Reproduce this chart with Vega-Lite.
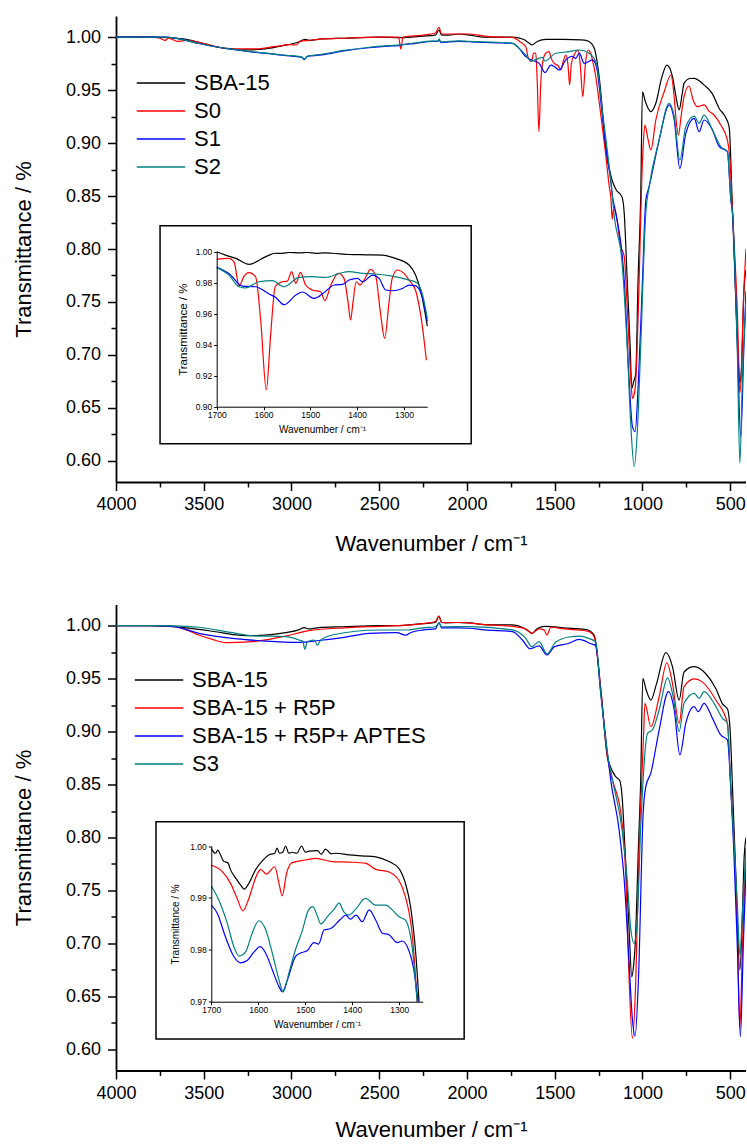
{
"$schema": "https://vega.github.io/schema/vega-lite/v6.json",
"padding": {"left": 12, "top": 16, "right": 0, "bottom": 0},
"background": "white",
"config": {
 "view": {"stroke": null},
 "font": "Liberation Sans",
 "axis": {"grid": false, "domainColor": "black", "tickColor": "black", "labelColor": "black", "titleColor": "black", "labelFont": "Liberation Sans", "titleFont": "Liberation Sans", "titleFontWeight": "normal", "labelFlush": false, "labelOverlap": false},
 "legend": {"orient": "none", "title": null, "symbolType": "stroke", "symbolSize": 2352, "symbolStrokeWidth": 1.3, "labelFontSize": 22, "labelFont": "Liberation Sans", "labelColor": "black", "clipHeight": 28, "rowPadding": 0, "labelOffset": 8, "padding": 0, "labelLimit": 400}
},
"datasets": {
 "p1main": [
  {"s":"SBA-15","w":4000,"t":1.0},{"s":"SBA-15","w":3900,"t":1.0},{"s":"SBA-15","w":3800,"t":1.0},{"s":"SBA-15","w":3700,"t":0.9995},{"s":"SBA-15","w":3600,"t":0.998},{"s":"SBA-15","w":3500,"t":0.994},{"s":"SBA-15","w":3400,"t":0.99},{"s":"SBA-15","w":3337,"t":0.9886},{"s":"SBA-15","w":3250,"t":0.988},{"s":"SBA-15","w":3150,"t":0.989},{"s":"SBA-15","w":3050,"t":0.992},{"s":"SBA-15","w":2960,"t":0.9955},{"s":"SBA-15","w":2923,"t":0.998},{"s":"SBA-15","w":2900,"t":0.997},{"s":"SBA-15","w":2850,"t":0.998},{"s":"SBA-15","w":2700,"t":0.999},{"s":"SBA-15","w":2500,"t":1.0},{"s":"SBA-15","w":2380,"t":0.9995},{"s":"SBA-15","w":2250,"t":1.001},{"s":"SBA-15","w":2180,"t":1.002},{"s":"SBA-15","w":2159,"t":1.0068},{"s":"SBA-15","w":2145,"t":1.002},{"s":"SBA-15","w":2100,"t":1.002},{"s":"SBA-15","w":2050,"t":1.003},{"s":"SBA-15","w":1988,"t":1.002},{"s":"SBA-15","w":1900,"t":1.0},{"s":"SBA-15","w":1800,"t":1.0},{"s":"SBA-15","w":1743,"t":1.0},{"s":"SBA-15","w":1680,"t":0.998},{"s":"SBA-15","w":1650,"t":0.995},{"s":"SBA-15","w":1629,"t":0.9926},{"s":"SBA-15","w":1600,"t":0.996},{"s":"SBA-15","w":1549,"t":0.998},{"s":"SBA-15","w":1450,"t":0.998},{"s":"SBA-15","w":1350,"t":0.9975},{"s":"SBA-15","w":1321,"t":0.997},{"s":"SBA-15","w":1290,"t":0.994},{"s":"SBA-15","w":1270,"t":0.987},{"s":"SBA-15","w":1247,"t":0.963},{"s":"SBA-15","w":1207,"t":0.8935},{"s":"SBA-15","w":1173,"t":0.865},{"s":"SBA-15","w":1150,"t":0.856},{"s":"SBA-15","w":1116,"t":0.849},{"s":"SBA-15","w":1104,"t":0.834},{"s":"SBA-15","w":1087,"t":0.771},{"s":"SBA-15","w":1070,"t":0.708},{"s":"SBA-15","w":1061,"t":0.6685},{"s":"SBA-15","w":1050,"t":0.675},{"s":"SBA-15","w":1038,"t":0.6826},{"s":"SBA-15","w":1025,"t":0.771},{"s":"SBA-15","w":1010,"t":0.849},{"s":"SBA-15","w":1000,"t":0.9485},{"s":"SBA-15","w":985,"t":0.94},{"s":"SBA-15","w":952,"t":0.9297},{"s":"SBA-15","w":924,"t":0.9376},{"s":"SBA-15","w":890,"t":0.962},{"s":"SBA-15","w":861,"t":0.9737},{"s":"SBA-15","w":829,"t":0.9627},{"s":"SBA-15","w":810,"t":0.945},{"s":"SBA-15","w":791,"t":0.9313},{"s":"SBA-15","w":775,"t":0.945},{"s":"SBA-15","w":763,"t":0.9564},{"s":"SBA-15","w":730,"t":0.961},{"s":"SBA-15","w":705,"t":0.9612},{"s":"SBA-15","w":650,"t":0.955},{"s":"SBA-15","w":603,"t":0.947},{"s":"SBA-15","w":560,"t":0.932},{"s":"SBA-15","w":534,"t":0.9265},{"s":"SBA-15","w":506,"t":0.9154},{"s":"SBA-15","w":489,"t":0.8463},{"s":"SBA-15","w":470,"t":0.76},{"s":"SBA-15","w":455,"t":0.7},{"s":"SBA-15","w":445,"t":0.6735},{"s":"SBA-15","w":435,"t":0.69},{"s":"SBA-15","w":422,"t":0.76},{"s":"SBA-15","w":410,"t":0.78},
  {"s":"S0","w":4000,"t":1.0},{"s":"S0","w":3800,"t":1.0},{"s":"S0","w":3750,"t":0.999},{"s":"S0","w":3720,"t":0.997},{"s":"S0","w":3700,"t":0.999},{"s":"S0","w":3650,"t":0.996},{"s":"S0","w":3600,"t":0.997},{"s":"S0","w":3500,"t":0.994},{"s":"S0","w":3400,"t":0.99},{"s":"S0","w":3300,"t":0.989},{"s":"S0","w":3200,"t":0.989},{"s":"S0","w":3100,"t":0.991},{"s":"S0","w":3000,"t":0.993},{"s":"S0","w":2974,"t":0.9926},{"s":"S0","w":2950,"t":0.996},{"s":"S0","w":2900,"t":0.997},{"s":"S0","w":2850,"t":0.998},{"s":"S0","w":2700,"t":0.999},{"s":"S0","w":2500,"t":1.0},{"s":"S0","w":2390,"t":1.0},{"s":"S0","w":2377,"t":0.9888},{"s":"S0","w":2365,"t":1.0},{"s":"S0","w":2250,"t":1.002},{"s":"S0","w":2180,"t":1.004},{"s":"S0","w":2159,"t":1.0093},{"s":"S0","w":2145,"t":1.003},{"s":"S0","w":2050,"t":1.003},{"s":"S0","w":1988,"t":1.003},{"s":"S0","w":1900,"t":1.001},{"s":"S0","w":1800,"t":1.0},{"s":"S0","w":1741,"t":0.9999},{"s":"S0","w":1700,"t":0.996},{"s":"S0","w":1665,"t":0.991},{"s":"S0","w":1650,"t":0.98},{"s":"S0","w":1633,"t":0.9769},{"s":"S0","w":1620,"t":0.985},{"s":"S0","w":1608,"t":0.9848},{"s":"S0","w":1600,"t":0.96},{"s":"S0","w":1590,"t":0.9107},{"s":"S0","w":1580,"t":0.955},{"s":"S0","w":1566,"t":0.9785},{"s":"S0","w":1550,"t":0.985},{"s":"S0","w":1532,"t":0.9863},{"s":"S0","w":1520,"t":0.98},{"s":"S0","w":1503,"t":0.9753},{"s":"S0","w":1480,"t":0.973},{"s":"S0","w":1465,"t":0.969},{"s":"S0","w":1450,"t":0.978},{"s":"S0","w":1437,"t":0.9832},{"s":"S0","w":1425,"t":0.975},{"s":"S0","w":1415,"t":0.9549},{"s":"S0","w":1405,"t":0.975},{"s":"S0","w":1389,"t":0.9832},{"s":"S0","w":1367,"t":0.9879},{"s":"S0","w":1355,"t":0.975},{"s":"S0","w":1340,"t":0.9438},{"s":"S0","w":1325,"t":0.975},{"s":"S0","w":1310,"t":0.9879},{"s":"S0","w":1295,"t":0.985},{"s":"S0","w":1285,"t":0.9785},{"s":"S0","w":1266,"t":0.9627},{"s":"S0","w":1240,"t":0.93},{"s":"S0","w":1210,"t":0.89},{"s":"S0","w":1190,"t":0.86},{"s":"S0","w":1180,"t":0.848},{"s":"S0","w":1172,"t":0.828},{"s":"S0","w":1165,"t":0.838},{"s":"S0","w":1152,"t":0.834},{"s":"S0","w":1123,"t":0.802},{"s":"S0","w":1104,"t":0.793},{"s":"S0","w":1085,"t":0.7395},{"s":"S0","w":1066,"t":0.6763},{"s":"S0","w":1057,"t":0.659},{"s":"S0","w":1048,"t":0.662},{"s":"S0","w":1038,"t":0.676},{"s":"S0","w":1019,"t":0.77},{"s":"S0","w":1004,"t":0.865},{"s":"S0","w":995,"t":0.9},{"s":"S0","w":986,"t":0.917},{"s":"S0","w":970,"t":0.905},{"s":"S0","w":952,"t":0.8935},{"s":"S0","w":924,"t":0.9218},{"s":"S0","w":876,"t":0.9485},{"s":"S0","w":838,"t":0.9643},{"s":"S0","w":820,"t":0.945},{"s":"S0","w":810,"t":0.925},{"s":"S0","w":795,"t":0.9076},{"s":"S0","w":780,"t":0.925},{"s":"S0","w":763,"t":0.9438},{"s":"S0","w":735,"t":0.9539},{"s":"S0","w":710,"t":0.94},{"s":"S0","w":687,"t":0.9344},{"s":"S0","w":649,"t":0.936},{"s":"S0","w":620,"t":0.93},{"s":"S0","w":592,"t":0.9265},{"s":"S0","w":554,"t":0.9171},{"s":"S0","w":516,"t":0.9029},{"s":"S0","w":500,"t":0.88},{"s":"S0","w":487,"t":0.834},{"s":"S0","w":459,"t":0.7395},{"s":"S0","w":445,"t":0.664},{"s":"S0","w":435,"t":0.69},{"s":"S0","w":427,"t":0.7395},{"s":"S0","w":410,"t":0.8},
  {"s":"S1","w":4000,"t":1.0},{"s":"S1","w":3800,"t":1.0},{"s":"S1","w":3715,"t":1.0},{"s":"S1","w":3600,"t":0.997},{"s":"S1","w":3527,"t":0.994},{"s":"S1","w":3400,"t":0.99},{"s":"S1","w":3337,"t":0.9886},{"s":"S1","w":3250,"t":0.9865},{"s":"S1","w":3145,"t":0.9848},{"s":"S1","w":3050,"t":0.983},{"s":"S1","w":2997,"t":0.9822},{"s":"S1","w":2940,"t":0.981},{"s":"S1","w":2928,"t":0.979},{"s":"S1","w":2910,"t":0.982},{"s":"S1","w":2843,"t":0.983},{"s":"S1","w":2700,"t":0.987},{"s":"S1","w":2558,"t":0.99},{"s":"S1","w":2450,"t":0.9915},{"s":"S1","w":2390,"t":0.992},{"s":"S1","w":2377,"t":0.9926},{"s":"S1","w":2300,"t":0.994},{"s":"S1","w":2200,"t":0.996},{"s":"S1","w":2165,"t":0.996},{"s":"S1","w":2159,"t":0.998},{"s":"S1","w":2150,"t":0.995},{"s":"S1","w":2050,"t":0.996},{"s":"S1","w":1988,"t":0.9957},{"s":"S1","w":1900,"t":0.995},{"s":"S1","w":1800,"t":0.9945},{"s":"S1","w":1741,"t":0.9942},{"s":"S1","w":1700,"t":0.989},{"s":"S1","w":1665,"t":0.9816},{"s":"S1","w":1633,"t":0.9785},{"s":"S1","w":1589,"t":0.9753},{"s":"S1","w":1555,"t":0.9665},{"s":"S1","w":1522,"t":0.9737},{"s":"S1","w":1500,"t":0.972},{"s":"S1","w":1475,"t":0.969},{"s":"S1","w":1437,"t":0.9785},{"s":"S1","w":1400,"t":0.982},{"s":"S1","w":1380,"t":0.98},{"s":"S1","w":1360,"t":0.985},{"s":"S1","w":1332,"t":0.9753},{"s":"S1","w":1285,"t":0.9785},{"s":"S1","w":1262,"t":0.972},{"s":"S1","w":1228,"t":0.925},{"s":"S1","w":1200,"t":0.885},{"s":"S1","w":1181,"t":0.865},{"s":"S1","w":1171,"t":0.85},{"s":"S1","w":1152,"t":0.834},{"s":"S1","w":1104,"t":0.7707},{"s":"S1","w":1076,"t":0.6763},{"s":"S1","w":1057,"t":0.6322},{"s":"S1","w":1042,"t":0.6275},{"s":"S1","w":1023,"t":0.676},{"s":"S1","w":1000,"t":0.77},{"s":"S1","w":981,"t":0.846},{"s":"S1","w":962,"t":0.8588},{"s":"S1","w":905,"t":0.9029},{"s":"S1","w":848,"t":0.936},{"s":"S1","w":819,"t":0.9218},{"s":"S1","w":787,"t":0.876},{"s":"S1","w":753,"t":0.9092},{"s":"S1","w":705,"t":0.9234},{"s":"S1","w":677,"t":0.9107},{"s":"S1","w":649,"t":0.9218},{"s":"S1","w":601,"t":0.9124},{"s":"S1","w":563,"t":0.8966},{"s":"S1","w":516,"t":0.8919},{"s":"S1","w":496,"t":0.846},{"s":"S1","w":487,"t":0.834},{"s":"S1","w":459,"t":0.708},{"s":"S1","w":440,"t":0.6228},{"s":"S1","w":422,"t":0.708},{"s":"S1","w":410,"t":0.76},
  {"s":"S2","w":4000,"t":1.0},{"s":"S2","w":3715,"t":1.0},{"s":"S2","w":3600,"t":0.997},{"s":"S2","w":3527,"t":0.994},{"s":"S2","w":3400,"t":0.99},{"s":"S2","w":3337,"t":0.9888},{"s":"S2","w":3250,"t":0.9868},{"s":"S2","w":3145,"t":0.985},{"s":"S2","w":3050,"t":0.9832},{"s":"S2","w":2997,"t":0.9825},{"s":"S2","w":2940,"t":0.9812},{"s":"S2","w":2928,"t":0.9785},{"s":"S2","w":2910,"t":0.982},{"s":"S2","w":2843,"t":0.9835},{"s":"S2","w":2700,"t":0.9875},{"s":"S2","w":2558,"t":0.9905},{"s":"S2","w":2450,"t":0.992},{"s":"S2","w":2377,"t":0.9928},{"s":"S2","w":2300,"t":0.9945},{"s":"S2","w":2200,"t":0.9963},{"s":"S2","w":2165,"t":0.9963},{"s":"S2","w":2159,"t":0.9985},{"s":"S2","w":2150,"t":0.9955},{"s":"S2","w":2050,"t":0.9965},{"s":"S2","w":1988,"t":0.996},{"s":"S2","w":1900,"t":0.9955},{"s":"S2","w":1800,"t":0.995},{"s":"S2","w":1741,"t":0.9942},{"s":"S2","w":1700,"t":0.989},{"s":"S2","w":1665,"t":0.9832},{"s":"S2","w":1633,"t":0.9775},{"s":"S2","w":1570,"t":0.981},{"s":"S2","w":1556,"t":0.9775},{"s":"S2","w":1494,"t":0.9848},{"s":"S2","w":1418,"t":0.9863},{"s":"S2","w":1361,"t":0.9879},{"s":"S2","w":1304,"t":0.9848},{"s":"S2","w":1262,"t":0.9753},{"s":"S2","w":1228,"t":0.93},{"s":"S2","w":1181,"t":0.865},{"s":"S2","w":1160,"t":0.83},{"s":"S2","w":1116,"t":0.7865},{"s":"S2","w":1087,"t":0.708},{"s":"S2","w":1066,"t":0.6322},{"s":"S2","w":1047,"t":0.5945},{"s":"S2","w":1028,"t":0.6322},{"s":"S2","w":1010,"t":0.708},{"s":"S2","w":981,"t":0.834},{"s":"S2","w":962,"t":0.8588},{"s":"S2","w":905,"t":0.9029},{"s":"S2","w":848,"t":0.9376},{"s":"S2","w":819,"t":0.925},{"s":"S2","w":787,"t":0.884},{"s":"S2","w":753,"t":0.9154},{"s":"S2","w":705,"t":0.9255},{"s":"S2","w":677,"t":0.9186},{"s":"S2","w":649,"t":0.9265},{"s":"S2","w":601,"t":0.9124},{"s":"S2","w":554,"t":0.8966},{"s":"S2","w":516,"t":0.8919},{"s":"S2","w":496,"t":0.846},{"s":"S2","w":487,"t":0.834},{"s":"S2","w":459,"t":0.7},{"s":"S2","w":445,"t":0.598},{"s":"S2","w":430,"t":0.68},{"s":"S2","w":410,"t":0.75}
 ],
 "p1inset": [
  {"s":"SBA-15","w":1700,"t":1.0},{"s":"SBA-15","w":1681,"t":0.9978},{"s":"SBA-15","w":1659,"t":0.9957},{"s":"SBA-15","w":1631,"t":0.9918},{"s":"SBA-15","w":1595,"t":0.9968},{"s":"SBA-15","w":1575,"t":0.999},{"s":"SBA-15","w":1560,"t":0.9989},{"s":"SBA-15","w":1545,"t":0.9995},{"s":"SBA-15","w":1524,"t":0.9992},{"s":"SBA-15","w":1505,"t":0.9995},{"s":"SBA-15","w":1488,"t":0.9989},{"s":"SBA-15","w":1470,"t":0.9992},{"s":"SBA-15","w":1453,"t":0.999},{"s":"SBA-15","w":1417,"t":0.9982},{"s":"SBA-15","w":1380,"t":0.998},{"s":"SBA-15","w":1346,"t":0.9978},{"s":"SBA-15","w":1318,"t":0.9957},{"s":"SBA-15","w":1289,"t":0.9914},{"s":"SBA-15","w":1275,"t":0.985},{"s":"SBA-15","w":1262,"t":0.972},{"s":"SBA-15","w":1250,"t":0.952},
  {"s":"S0","w":1700,"t":0.995},{"s":"S0","w":1674,"t":0.9957},{"s":"S0","w":1663,"t":0.9935},{"s":"S0","w":1652,"t":0.9778},{"s":"S0","w":1642,"t":0.9839},{"s":"S0","w":1631,"t":0.9865},{"s":"S0","w":1617,"t":0.9839},{"s":"S0","w":1606,"t":0.9559},{"s":"S0","w":1594,"t":0.9108},{"s":"S0","w":1585,"t":0.9452},{"s":"S0","w":1575,"t":0.9774},{"s":"S0","w":1560,"t":0.9806},{"s":"S0","w":1549,"t":0.981},{"s":"S0","w":1540,"t":0.9871},{"s":"S0","w":1531,"t":0.9796},{"s":"S0","w":1521,"t":0.9867},{"s":"S0","w":1510,"t":0.9785},{"s":"S0","w":1496,"t":0.9753},{"s":"S0","w":1478,"t":0.9742},{"s":"S0","w":1469,"t":0.9684},{"s":"S0","w":1456,"t":0.9785},{"s":"S0","w":1440,"t":0.986},{"s":"S0","w":1428,"t":0.9828},{"s":"S0","w":1419,"t":0.9667},{"s":"S0","w":1414,"t":0.9559},{"s":"S0","w":1409,"t":0.9667},{"s":"S0","w":1402,"t":0.9806},{"s":"S0","w":1394,"t":0.9785},{"s":"S0","w":1385,"t":0.9817},{"s":"S0","w":1371,"t":0.9886},{"s":"S0","w":1360,"t":0.9839},{"s":"S0","w":1350,"t":0.9602},{"s":"S0","w":1341,"t":0.9441},{"s":"S0","w":1332,"t":0.9667},{"s":"S0","w":1325,"t":0.9828},{"s":"S0","w":1314,"t":0.9882},{"s":"S0","w":1300,"t":0.986},{"s":"S0","w":1289,"t":0.9817},{"s":"S0","w":1275,"t":0.975},{"s":"S0","w":1262,"t":0.955},{"s":"S0","w":1252,"t":0.93},
  {"s":"S1","w":1700,"t":0.9899},{"s":"S1","w":1674,"t":0.986},{"s":"S1","w":1645,"t":0.9778},{"s":"S1","w":1617,"t":0.9774},{"s":"S1","w":1588,"t":0.9727},{"s":"S1","w":1574,"t":0.9705},{"s":"S1","w":1556,"t":0.9658},{"s":"S1","w":1531,"t":0.972},{"s":"S1","w":1517,"t":0.974},{"s":"S1","w":1492,"t":0.9699},{"s":"S1","w":1471,"t":0.9735},{"s":"S1","w":1449,"t":0.9785},{"s":"S1","w":1431,"t":0.9789},{"s":"S1","w":1417,"t":0.9817},{"s":"S1","w":1399,"t":0.9828},{"s":"S1","w":1388,"t":0.9806},{"s":"S1","w":1367,"t":0.9849},{"s":"S1","w":1353,"t":0.9828},{"s":"S1","w":1339,"t":0.9753},{"s":"S1","w":1325,"t":0.9748},{"s":"S1","w":1303,"t":0.9763},{"s":"S1","w":1289,"t":0.9785},{"s":"S1","w":1275,"t":0.978},{"s":"S1","w":1262,"t":0.972},{"s":"S1","w":1250,"t":0.955},
  {"s":"S2","w":1700,"t":0.9899},{"s":"S2","w":1674,"t":0.9849},{"s":"S2","w":1652,"t":0.9774},{"s":"S2","w":1638,"t":0.9766},{"s":"S2","w":1610,"t":0.9806},{"s":"S2","w":1581,"t":0.9813},{"s":"S2","w":1556,"t":0.9774},{"s":"S2","w":1524,"t":0.9834},{"s":"S2","w":1496,"t":0.9839},{"s":"S2","w":1467,"t":0.9834},{"s":"S2","w":1438,"t":0.986},{"s":"S2","w":1417,"t":0.9871},{"s":"S2","w":1388,"t":0.986},{"s":"S2","w":1360,"t":0.9856},{"s":"S2","w":1325,"t":0.9843},{"s":"S2","w":1289,"t":0.9817},{"s":"S2","w":1272,"t":0.98},{"s":"S2","w":1260,"t":0.972},{"s":"S2","w":1250,"t":0.957}
 ],
 "p2main": [
  {"s":"SBA-15","w":4000,"t":1.0},{"s":"SBA-15","w":3800,"t":1.0},{"s":"SBA-15","w":3700,"t":0.9994},{"s":"SBA-15","w":3600,"t":0.998},{"s":"SBA-15","w":3432,"t":0.9943},{"s":"SBA-15","w":3300,"t":0.991},{"s":"SBA-15","w":3223,"t":0.9905},{"s":"SBA-15","w":3150,"t":0.991},{"s":"SBA-15","w":3052,"t":0.993},{"s":"SBA-15","w":2960,"t":0.996},{"s":"SBA-15","w":2928,"t":0.9981},{"s":"SBA-15","w":2900,"t":0.997},{"s":"SBA-15","w":2854,"t":0.998},{"s":"SBA-15","w":2700,"t":0.999},{"s":"SBA-15","w":2500,"t":1.0},{"s":"SBA-15","w":2400,"t":1.0},{"s":"SBA-15","w":2250,"t":1.002},{"s":"SBA-15","w":2180,"t":1.003},{"s":"SBA-15","w":2159,"t":1.0091},{"s":"SBA-15","w":2145,"t":1.003},{"s":"SBA-15","w":2120,"t":1.0027},{"s":"SBA-15","w":2050,"t":1.003},{"s":"SBA-15","w":1988,"t":1.0027},{"s":"SBA-15","w":1900,"t":1.001},{"s":"SBA-15","w":1741,"t":1.0007},{"s":"SBA-15","w":1680,"t":0.998},{"s":"SBA-15","w":1650,"t":0.995},{"s":"SBA-15","w":1630,"t":0.9928},{"s":"SBA-15","w":1600,"t":0.997},{"s":"SBA-15","w":1570,"t":0.9991},{"s":"SBA-15","w":1549,"t":0.9994},{"s":"SBA-15","w":1450,"t":0.998},{"s":"SBA-15","w":1323,"t":0.9964},{"s":"SBA-15","w":1300,"t":0.995},{"s":"SBA-15","w":1275,"t":0.991},{"s":"SBA-15","w":1237,"t":0.9393},{"s":"SBA-15","w":1200,"t":0.8763},{"s":"SBA-15","w":1152,"t":0.8574},{"s":"SBA-15","w":1130,"t":0.854},{"s":"SBA-15","w":1116,"t":0.8385},{"s":"SBA-15","w":1100,"t":0.7913},{"s":"SBA-15","w":1076,"t":0.7127},{"s":"SBA-15","w":1061,"t":0.6686},{"s":"SBA-15","w":1050,"t":0.68},{"s":"SBA-15","w":1042,"t":0.6969},{"s":"SBA-15","w":1023,"t":0.7913},{"s":"SBA-15","w":1010,"t":0.8543},{"s":"SBA-15","w":998,"t":0.9503},{"s":"SBA-15","w":980,"t":0.94},{"s":"SBA-15","w":952,"t":0.9298},{"s":"SBA-15","w":920,"t":0.945},{"s":"SBA-15","w":867,"t":0.9745},{"s":"SBA-15","w":829,"t":0.9613},{"s":"SBA-15","w":791,"t":0.9298},{"s":"SBA-15","w":763,"t":0.9563},{"s":"SBA-15","w":705,"t":0.9613},{"s":"SBA-15","w":639,"t":0.9546},{"s":"SBA-15","w":580,"t":0.94},{"s":"SBA-15","w":544,"t":0.9262},{"s":"SBA-15","w":516,"t":0.9215},{"s":"SBA-15","w":500,"t":0.9},{"s":"SBA-15","w":487,"t":0.848},{"s":"SBA-15","w":467,"t":0.7599},{"s":"SBA-15","w":445,"t":0.6749},{"s":"SBA-15","w":430,"t":0.73},{"s":"SBA-15","w":422,"t":0.776},{"s":"SBA-15","w":410,"t":0.8},
  {"s":"SBA-15 + R5P","w":4000,"t":1.0},{"s":"SBA-15 + R5P","w":3800,"t":1.0},{"s":"SBA-15 + R5P","w":3679,"t":0.9995},{"s":"SBA-15 + R5P","w":3600,"t":0.996},{"s":"SBA-15 + R5P","w":3527,"t":0.9912},{"s":"SBA-15 + R5P","w":3450,"t":0.987},{"s":"SBA-15 + R5P","w":3375,"t":0.984},{"s":"SBA-15 + R5P","w":3223,"t":0.9849},{"s":"SBA-15 + R5P","w":3052,"t":0.9896},{"s":"SBA-15 + R5P","w":2900,"t":0.9953},{"s":"SBA-15 + R5P","w":2700,"t":0.998},{"s":"SBA-15 + R5P","w":2500,"t":0.9994},{"s":"SBA-15 + R5P","w":2400,"t":1.0},{"s":"SBA-15 + R5P","w":2250,"t":1.002},{"s":"SBA-15 + R5P","w":2180,"t":1.004},{"s":"SBA-15 + R5P","w":2159,"t":1.009},{"s":"SBA-15 + R5P","w":2145,"t":1.003},{"s":"SBA-15 + R5P","w":2050,"t":1.003},{"s":"SBA-15 + R5P","w":1988,"t":1.0025},{"s":"SBA-15 + R5P","w":1900,"t":1.001},{"s":"SBA-15 + R5P","w":1741,"t":0.9994},{"s":"SBA-15 + R5P","w":1665,"t":0.997},{"s":"SBA-15 + R5P","w":1630,"t":0.9928},{"s":"SBA-15 + R5P","w":1589,"t":0.997},{"s":"SBA-15 + R5P","w":1560,"t":0.996},{"s":"SBA-15 + R5P","w":1545,"t":0.991},{"s":"SBA-15 + R5P","w":1522,"t":0.9985},{"s":"SBA-15 + R5P","w":1450,"t":0.997},{"s":"SBA-15 + R5P","w":1323,"t":0.9952},{"s":"SBA-15 + R5P","w":1300,"t":0.994},{"s":"SBA-15 + R5P","w":1275,"t":0.9895},{"s":"SBA-15 + R5P","w":1237,"t":0.9393},{"s":"SBA-15 + R5P","w":1200,"t":0.8763},{"s":"SBA-15 + R5P","w":1171,"t":0.8543},{"s":"SBA-15 + R5P","w":1123,"t":0.8229},{"s":"SBA-15 + R5P","w":1094,"t":0.7599},{"s":"SBA-15 + R5P","w":1076,"t":0.6655},{"s":"SBA-15 + R5P","w":1057,"t":0.6104},{"s":"SBA-15 + R5P","w":1038,"t":0.6655},{"s":"SBA-15 + R5P","w":1019,"t":0.7913},{"s":"SBA-15 + R5P","w":1004,"t":0.8543},{"s":"SBA-15 + R5P","w":993,"t":0.9},{"s":"SBA-15 + R5P","w":986,"t":0.9267},{"s":"SBA-15 + R5P","w":952,"t":0.9046},{"s":"SBA-15 + R5P","w":905,"t":0.9329},{"s":"SBA-15 + R5P","w":861,"t":0.965},{"s":"SBA-15 + R5P","w":829,"t":0.9456},{"s":"SBA-15 + R5P","w":791,"t":0.9078},{"s":"SBA-15 + R5P","w":763,"t":0.9424},{"s":"SBA-15 + R5P","w":705,"t":0.9498},{"s":"SBA-15 + R5P","w":658,"t":0.9467},{"s":"SBA-15 + R5P","w":582,"t":0.9298},{"s":"SBA-15 + R5P","w":516,"t":0.9078},{"s":"SBA-15 + R5P","w":496,"t":0.8449},{"s":"SBA-15 + R5P","w":480,"t":0.8},{"s":"SBA-15 + R5P","w":460,"t":0.72},{"s":"SBA-15 + R5P","w":445,"t":0.6199},{"s":"SBA-15 + R5P","w":430,"t":0.7},{"s":"SBA-15 + R5P","w":410,"t":0.79},
  {"s":"SBA-15 + R5P+ APTES","w":4000,"t":1.0},{"s":"SBA-15 + R5P+ APTES","w":3800,"t":1.0},{"s":"SBA-15 + R5P+ APTES","w":3679,"t":0.9994},{"s":"SBA-15 + R5P+ APTES","w":3527,"t":0.9928},{"s":"SBA-15 + R5P+ APTES","w":3337,"t":0.9881},{"s":"SBA-15 + R5P+ APTES","w":3147,"t":0.9855},{"s":"SBA-15 + R5P+ APTES","w":2957,"t":0.9843},{"s":"SBA-15 + R5P+ APTES","w":2843,"t":0.986},{"s":"SBA-15 + R5P+ APTES","w":2700,"t":0.989},{"s":"SBA-15 + R5P+ APTES","w":2558,"t":0.9928},{"s":"SBA-15 + R5P+ APTES","w":2400,"t":0.9935},{"s":"SBA-15 + R5P+ APTES","w":2350,"t":0.991},{"s":"SBA-15 + R5P+ APTES","w":2320,"t":0.9935},{"s":"SBA-15 + R5P+ APTES","w":2250,"t":0.996},{"s":"SBA-15 + R5P+ APTES","w":2180,"t":0.997},{"s":"SBA-15 + R5P+ APTES","w":2159,"t":1.003},{"s":"SBA-15 + R5P+ APTES","w":2145,"t":0.998},{"s":"SBA-15 + R5P+ APTES","w":2050,"t":0.998},{"s":"SBA-15 + R5P+ APTES","w":1988,"t":0.9976},{"s":"SBA-15 + R5P+ APTES","w":1900,"t":0.996},{"s":"SBA-15 + R5P+ APTES","w":1741,"t":0.9944},{"s":"SBA-15 + R5P+ APTES","w":1684,"t":0.9865},{"s":"SBA-15 + R5P+ APTES","w":1640,"t":0.9782},{"s":"SBA-15 + R5P+ APTES","w":1589,"t":0.981},{"s":"SBA-15 + R5P+ APTES","w":1544,"t":0.9723},{"s":"SBA-15 + R5P+ APTES","w":1503,"t":0.98},{"s":"SBA-15 + R5P+ APTES","w":1418,"t":0.9834},{"s":"SBA-15 + R5P+ APTES","w":1361,"t":0.987},{"s":"SBA-15 + R5P+ APTES","w":1294,"t":0.983},{"s":"SBA-15 + R5P+ APTES","w":1266,"t":0.981},{"s":"SBA-15 + R5P+ APTES","w":1240,"t":0.94},{"s":"SBA-15 + R5P+ APTES","w":1200,"t":0.88},{"s":"SBA-15 + R5P+ APTES","w":1181,"t":0.8543},{"s":"SBA-15 + R5P+ APTES","w":1133,"t":0.8071},{"s":"SBA-15 + R5P+ APTES","w":1104,"t":0.7599},{"s":"SBA-15 + R5P+ APTES","w":1076,"t":0.6812},{"s":"SBA-15 + R5P+ APTES","w":1057,"t":0.6277},{"s":"SBA-15 + R5P+ APTES","w":1042,"t":0.6126},{"s":"SBA-15 + R5P+ APTES","w":1023,"t":0.6655},{"s":"SBA-15 + R5P+ APTES","w":996,"t":0.823},{"s":"SBA-15 + R5P+ APTES","w":981,"t":0.848},{"s":"SBA-15 + R5P+ APTES","w":952,"t":0.8611},{"s":"SBA-15 + R5P+ APTES","w":905,"t":0.9015},{"s":"SBA-15 + R5P+ APTES","w":852,"t":0.9377},{"s":"SBA-15 + R5P+ APTES","w":819,"t":0.9204},{"s":"SBA-15 + R5P+ APTES","w":787,"t":0.878},{"s":"SBA-15 + R5P+ APTES","w":753,"t":0.908},{"s":"SBA-15 + R5P+ APTES","w":705,"t":0.9235},{"s":"SBA-15 + R5P+ APTES","w":682,"t":0.9188},{"s":"SBA-15 + R5P+ APTES","w":649,"t":0.9267},{"s":"SBA-15 + R5P+ APTES","w":601,"t":0.9125},{"s":"SBA-15 + R5P+ APTES","w":554,"t":0.8968},{"s":"SBA-15 + R5P+ APTES","w":516,"t":0.8921},{"s":"SBA-15 + R5P+ APTES","w":496,"t":0.845},{"s":"SBA-15 + R5P+ APTES","w":480,"t":0.79},{"s":"SBA-15 + R5P+ APTES","w":460,"t":0.7},{"s":"SBA-15 + R5P+ APTES","w":442,"t":0.6119},{"s":"SBA-15 + R5P+ APTES","w":425,"t":0.7},{"s":"SBA-15 + R5P+ APTES","w":410,"t":0.77},
  {"s":"S3","w":4000,"t":1.0},{"s":"S3","w":3800,"t":1.0},{"s":"S3","w":3679,"t":0.9998},{"s":"S3","w":3527,"t":0.9985},{"s":"S3","w":3337,"t":0.9934},{"s":"S3","w":3223,"t":0.9905},{"s":"S3","w":3033,"t":0.9896},{"s":"S3","w":2957,"t":0.9865},{"s":"S3","w":2935,"t":0.985},{"s":"S3","w":2924,"t":0.9777},{"s":"S3","w":2910,"t":0.9849},{"s":"S3","w":2870,"t":0.9865},{"s":"S3","w":2853,"t":0.9815},{"s":"S3","w":2835,"t":0.986},{"s":"S3","w":2767,"t":0.9912},{"s":"S3","w":2501,"t":0.9959},{"s":"S3","w":2350,"t":0.9959},{"s":"S3","w":2250,"t":0.998},{"s":"S3","w":2180,"t":0.999},{"s":"S3","w":2159,"t":1.0025},{"s":"S3","w":2145,"t":0.999},{"s":"S3","w":1988,"t":0.9991},{"s":"S3","w":1741,"t":0.996},{"s":"S3","w":1665,"t":0.988},{"s":"S3","w":1630,"t":0.9801},{"s":"S3","w":1589,"t":0.985},{"s":"S3","w":1544,"t":0.9735},{"s":"S3","w":1494,"t":0.9845},{"s":"S3","w":1418,"t":0.9893},{"s":"S3","w":1361,"t":0.9901},{"s":"S3","w":1304,"t":0.9878},{"s":"S3","w":1266,"t":0.9845},{"s":"S3","w":1240,"t":0.94},{"s":"S3","w":1200,"t":0.88},{"s":"S3","w":1171,"t":0.8543},{"s":"S3","w":1116,"t":0.8071},{"s":"S3","w":1087,"t":0.7599},{"s":"S3","w":1066,"t":0.7127},{"s":"S3","w":1047,"t":0.6999},{"s":"S3","w":1028,"t":0.7285},{"s":"S3","w":1010,"t":0.81},{"s":"S3","w":998,"t":0.85},{"s":"S3","w":971,"t":0.8984},{"s":"S3","w":943,"t":0.9015},{"s":"S3","w":905,"t":0.9204},{"s":"S3","w":857,"t":0.9508},{"s":"S3","w":825,"t":0.9329},{"s":"S3","w":791,"t":0.9},{"s":"S3","w":763,"t":0.9267},{"s":"S3","w":705,"t":0.9361},{"s":"S3","w":677,"t":0.9314},{"s":"S3","w":649,"t":0.9377},{"s":"S3","w":592,"t":0.9267},{"s":"S3","w":544,"t":0.9125},{"s":"S3","w":516,"t":0.9078},{"s":"S3","w":496,"t":0.845},{"s":"S3","w":480,"t":0.8},{"s":"S3","w":460,"t":0.74},{"s":"S3","w":445,"t":0.689},{"s":"S3","w":430,"t":0.73},{"s":"S3","w":410,"t":0.79}
 ],
 "p2inset": [
  {"s":"SBA-15","w":1700,"t":0.9995},{"s":"SBA-15","w":1691,"t":0.9986},{"s":"SBA-15","w":1686,"t":0.9992},{"s":"SBA-15","w":1681,"t":0.9984},{"s":"SBA-15","w":1673,"t":0.997},{"s":"SBA-15","w":1665,"t":0.9968},{"s":"SBA-15","w":1659,"t":0.9954},{"s":"SBA-15","w":1648,"t":0.9938},{"s":"SBA-15","w":1638,"t":0.9925},{"s":"SBA-15","w":1630,"t":0.9917},{"s":"SBA-15","w":1620,"t":0.9928},{"s":"SBA-15","w":1606,"t":0.9954},{"s":"SBA-15","w":1591,"t":0.9972},{"s":"SBA-15","w":1577,"t":0.9983},{"s":"SBA-15","w":1565,"t":0.9986},{"s":"SBA-15","w":1560,"t":0.9996},{"s":"SBA-15","w":1555,"t":0.9986},{"s":"SBA-15","w":1548,"t":0.9988},{"s":"SBA-15","w":1542,"t":1.0},{"s":"SBA-15","w":1535,"t":0.9986},{"s":"SBA-15","w":1528,"t":0.9988},{"s":"SBA-15","w":1518,"t":0.9986},{"s":"SBA-15","w":1508,"t":1.0},{"s":"SBA-15","w":1500,"t":0.9988},{"s":"SBA-15","w":1492,"t":0.999},{"s":"SBA-15","w":1474,"t":0.9991},{"s":"SBA-15","w":1466,"t":0.9984},{"s":"SBA-15","w":1457,"t":0.9994},{"s":"SBA-15","w":1445,"t":0.9985},{"s":"SBA-15","w":1435,"t":0.9986},{"s":"SBA-15","w":1407,"t":0.9983},{"s":"SBA-15","w":1379,"t":0.9981},{"s":"SBA-15","w":1350,"t":0.9979},{"s":"SBA-15","w":1322,"t":0.997},{"s":"SBA-15","w":1301,"t":0.9957},{"s":"SBA-15","w":1287,"t":0.9928},{"s":"SBA-15","w":1276,"t":0.9883},{"s":"SBA-15","w":1265,"t":0.9793},{"s":"SBA-15","w":1258,"t":0.97},
  {"s":"SBA-15 + R5P","w":1700,"t":0.9963},{"s":"SBA-15 + R5P","w":1677,"t":0.9951},{"s":"SBA-15 + R5P","w":1659,"t":0.9928},{"s":"SBA-15 + R5P","w":1645,"t":0.9899},{"s":"SBA-15 + R5P","w":1633,"t":0.9875},{"s":"SBA-15 + R5P","w":1620,"t":0.9899},{"s":"SBA-15 + R5P","w":1606,"t":0.9938},{"s":"SBA-15 + R5P","w":1595,"t":0.9955},{"s":"SBA-15 + R5P","w":1583,"t":0.9946},{"s":"SBA-15 + R5P","w":1565,"t":0.996},{"s":"SBA-15 + R5P","w":1556,"t":0.9928},{"s":"SBA-15 + R5P","w":1549,"t":0.9904},{"s":"SBA-15 + R5P","w":1540,"t":0.9947},{"s":"SBA-15 + R5P","w":1528,"t":0.9968},{"s":"SBA-15 + R5P","w":1499,"t":0.9973},{"s":"SBA-15 + R5P","w":1478,"t":0.9976},{"s":"SBA-15 + R5P","w":1443,"t":0.997},{"s":"SBA-15 + R5P","w":1407,"t":0.9969},{"s":"SBA-15 + R5P","w":1372,"t":0.9967},{"s":"SBA-15 + R5P","w":1350,"t":0.9955},{"s":"SBA-15 + R5P","w":1322,"t":0.995},{"s":"SBA-15 + R5P","w":1301,"t":0.9934},{"s":"SBA-15 + R5P","w":1287,"t":0.9902},{"s":"SBA-15 + R5P","w":1272,"t":0.9825},{"s":"SBA-15 + R5P","w":1262,"t":0.97},
  {"s":"SBA-15 + R5P+ APTES","w":1700,"t":0.9886},{"s":"SBA-15 + R5P+ APTES","w":1687,"t":0.987},{"s":"SBA-15 + R5P+ APTES","w":1670,"t":0.9825},{"s":"SBA-15 + R5P+ APTES","w":1652,"t":0.9787},{"s":"SBA-15 + R5P+ APTES","w":1638,"t":0.9775},{"s":"SBA-15 + R5P+ APTES","w":1623,"t":0.978},{"s":"SBA-15 + R5P+ APTES","w":1609,"t":0.9796},{"s":"SBA-15 + R5P+ APTES","w":1596,"t":0.9806},{"s":"SBA-15 + R5P+ APTES","w":1584,"t":0.9793},{"s":"SBA-15 + R5P+ APTES","w":1570,"t":0.9761},{"s":"SBA-15 + R5P+ APTES","w":1556,"t":0.9729},{"s":"SBA-15 + R5P+ APTES","w":1549,"t":0.9719},{"s":"SBA-15 + R5P+ APTES","w":1538,"t":0.9742},{"s":"SBA-15 + R5P+ APTES","w":1521,"t":0.9787},{"s":"SBA-15 + R5P+ APTES","w":1510,"t":0.9794},{"s":"SBA-15 + R5P+ APTES","w":1496,"t":0.9798},{"s":"SBA-15 + R5P+ APTES","w":1482,"t":0.9814},{"s":"SBA-15 + R5P+ APTES","w":1472,"t":0.9811},{"s":"SBA-15 + R5P+ APTES","w":1460,"t":0.9838},{"s":"SBA-15 + R5P+ APTES","w":1446,"t":0.9841},{"s":"SBA-15 + R5P+ APTES","w":1425,"t":0.9859},{"s":"SBA-15 + R5P+ APTES","w":1414,"t":0.9867},{"s":"SBA-15 + R5P+ APTES","w":1404,"t":0.9859},{"s":"SBA-15 + R5P+ APTES","w":1392,"t":0.9867},{"s":"SBA-15 + R5P+ APTES","w":1379,"t":0.9854},{"s":"SBA-15 + R5P+ APTES","w":1364,"t":0.9877},{"s":"SBA-15 + R5P+ APTES","w":1350,"t":0.9857},{"s":"SBA-15 + R5P+ APTES","w":1336,"t":0.9832},{"s":"SBA-15 + R5P+ APTES","w":1322,"t":0.9829},{"s":"SBA-15 + R5P+ APTES","w":1304,"t":0.9814},{"s":"SBA-15 + R5P+ APTES","w":1294,"t":0.9817},{"s":"SBA-15 + R5P+ APTES","w":1283,"t":0.9806},{"s":"SBA-15 + R5P+ APTES","w":1269,"t":0.9761},{"s":"SBA-15 + R5P+ APTES","w":1260,"t":0.97},
  {"s":"S3","w":1700,"t":0.9923},{"s":"S3","w":1684,"t":0.9896},{"s":"S3","w":1666,"t":0.9851},{"s":"S3","w":1652,"t":0.9806},{"s":"S3","w":1641,"t":0.9788},{"s":"S3","w":1627,"t":0.9796},{"s":"S3","w":1613,"t":0.9832},{"s":"S3","w":1599,"t":0.9856},{"s":"S3","w":1584,"t":0.9838},{"s":"S3","w":1570,"t":0.9793},{"s":"S3","w":1556,"t":0.9742},{"s":"S3","w":1547,"t":0.9719},{"s":"S3","w":1535,"t":0.9755},{"s":"S3","w":1521,"t":0.98},{"s":"S3","w":1506,"t":0.9838},{"s":"S3","w":1494,"t":0.9875},{"s":"S3","w":1484,"t":0.9883},{"s":"S3","w":1474,"t":0.9864},{"s":"S3","w":1467,"t":0.985},{"s":"S3","w":1453,"t":0.9864},{"s":"S3","w":1439,"t":0.9878},{"s":"S3","w":1428,"t":0.989},{"s":"S3","w":1418,"t":0.9873},{"s":"S3","w":1407,"t":0.9867},{"s":"S3","w":1393,"t":0.9878},{"s":"S3","w":1372,"t":0.9899},{"s":"S3","w":1350,"t":0.9886},{"s":"S3","w":1329,"t":0.9886},{"s":"S3","w":1315,"t":0.9877},{"s":"S3","w":1301,"t":0.9864},{"s":"S3","w":1287,"t":0.9857},{"s":"S3","w":1272,"t":0.98},{"s":"S3","w":1262,"t":0.97}
 ],
 "p1box": [{"x1": 3749, "x2": 1976, "y1": 0.822, "y2": 0.6162}],
 "p2box": [{"x1": 3772, "x2": 2016, "y1": 0.8149, "y2": 0.6097}]
},
"bounds": "flush",
"spacing": 122.5,
"resolve": {"scale": {"x": "independent", "y": "independent", "color": "independent"}, "legend": {"color": "independent"}},
"vconcat": [
 {
  "width": 630, "height": 466,
  "layer": [
   {
    "layer": [
     {
      "data": {"name": "p1main"},
      "mark": {"type": "line", "strokeWidth": 1.2, "clip": true, "interpolate": "monotone"},
      "encoding": {
       "x": {"field": "w", "type": "quantitative", "scale": {"domain": [4000, 410], "nice": false, "zero": false},
             "axis": {"orient": "bottom", "values": [4000, 3500, 3000, 2500, 2000, 1500, 1000, 500], "format": "d", "title": "Wavenumber / cm⁻¹", "labelFontSize": 18, "titleFontSize": 22, "tickSize": 8.5, "tickWidth": 1.5, "domainWidth": 1.8, "labelPadding": 5, "titlePadding": 20}},
       "y": {"field": "t", "type": "quantitative", "scale": {"domain": [0.58, 1.02], "nice": false, "zero": false},
             "axis": {"orient": "left", "values": [0.6, 0.65, 0.7, 0.75, 0.8, 0.85, 0.9, 0.95, 1.0], "format": ".2f", "title": "Transmittance / %", "labelFontSize": 18, "titleFontSize": 22, "tickSize": 8.5, "tickWidth": 1.5, "domainWidth": 1.8, "labelPadding": 7, "titlePadding": 30}},
       "color": {"field": "s", "type": "nominal", "scale": {"domain": ["SBA-15", "S0", "S1", "S2"], "range": ["#000000", "#ff0000", "#0000ff", "#008080"]},
                 "legend": {"legendX": 20, "legendY": 53}}
      }
     },
     {
      "data": {"name": "p1box"},
      "mark": {"type": "rect", "fill": "white", "stroke": "black", "strokeWidth": 1.5},
      "encoding": {
       "x": {"field": "x1", "type": "quantitative", "axis": {"orient": "bottom", "values": [3750, 3250, 2750, 2250, 1750, 1250, 750], "labels": false, "domain": false, "tickSize": 5, "tickWidth": 1.5, "title": null}},
       "x2": {"field": "x2"},
       "y": {"field": "y1", "type": "quantitative", "axis": {"orient": "left", "values": [0.625, 0.675, 0.725, 0.775, 0.825, 0.875, 0.925, 0.975], "labels": false, "domain": false, "tickSize": 5, "tickWidth": 1.5, "title": null}},
       "y2": {"field": "y2"}
      }
     }
    ],
    "resolve": {"axis": {"x": "independent", "y": "independent"}}
   },
   {
    "data": {"name": "p1inset"},
    "mark": {"type": "line", "strokeWidth": 1.2, "interpolate": "monotone"},
    "encoding": {
     "x": {"field": "w", "type": "quantitative", "scale": {"domain": [1700, 1250], "range": [100.7, 311.3], "nice": false, "zero": false},
           "axis": {"orient": "bottom", "zindex": 2, "offset": -75.3, "values": [1700, 1600, 1500, 1400, 1300], "format": "d", "labelFontSize": 8.5, "tickSize": 3, "tickWidth": 1, "domainWidth": 1, "labelPadding": 1, "title": "Wavenumber / cm⁻¹", "titleFontSize": 10, "titlePadding": 5}},
     "y": {"field": "t", "type": "quantitative", "scale": {"domain": [0.9, 1.0], "range": [390.7, 235.7], "nice": false, "zero": false},
           "axis": {"orient": "left", "zindex": 2, "offset": -100.7, "values": [0.9, 0.92, 0.94, 0.96, 0.98, 1.0], "format": ".2f", "labelFontSize": 8.5, "tickSize": 3, "tickWidth": 1, "domainWidth": 1, "labelPadding": 2, "title": "Transmittance / %", "titleFontSize": 11.5, "titlePadding": 7}},
     "color": {"field": "s", "type": "nominal", "scale": {"domain": ["SBA-15", "S0", "S1", "S2"], "range": ["#000000", "#ff0000", "#0000ff", "#008080"]}, "legend": null}
    }
   }
  ],
  "resolve": {"scale": {"x": "independent", "y": "independent", "color": "independent"}}
 },
 {
  "width": 630, "height": 466,
  "layer": [
   {
    "layer": [
     {
      "data": {"name": "p2main"},
      "mark": {"type": "line", "strokeWidth": 1.2, "clip": true, "interpolate": "monotone"},
      "encoding": {
       "x": {"field": "w", "type": "quantitative", "scale": {"domain": [4000, 410], "nice": false, "zero": false},
             "axis": {"orient": "bottom", "values": [4000, 3500, 3000, 2500, 2000, 1500, 1000, 500], "format": "d", "title": "Wavenumber / cm⁻¹", "labelFontSize": 18, "titleFontSize": 22, "tickSize": 8.5, "tickWidth": 1.5, "domainWidth": 1.8, "labelPadding": 5, "titlePadding": 17}},
       "y": {"field": "t", "type": "quantitative", "scale": {"domain": [0.58, 1.02], "nice": false, "zero": false},
             "axis": {"orient": "left", "values": [0.6, 0.65, 0.7, 0.75, 0.8, 0.85, 0.9, 0.95, 1.0], "format": ".2f", "title": "Transmittance / %", "labelFontSize": 18, "titleFontSize": 22, "tickSize": 8.5, "tickWidth": 1.5, "domainWidth": 1.8, "labelPadding": 7, "titlePadding": 30}},
       "color": {"field": "s", "type": "nominal", "scale": {"domain": ["SBA-15", "SBA-15 + R5P", "SBA-15 + R5P+ APTES", "S3"], "range": ["#000000", "#ff0000", "#0000ff", "#008080"]},
                 "legend": {"legendX": 18, "legendY": 61.5}}
      }
     },
     {
      "data": {"name": "p2box"},
      "mark": {"type": "rect", "fill": "white", "stroke": "black", "strokeWidth": 1.5},
      "encoding": {
       "x": {"field": "x1", "type": "quantitative", "axis": {"orient": "bottom", "values": [3750, 3250, 2750, 2250, 1750, 1250, 750], "labels": false, "domain": false, "tickSize": 5, "tickWidth": 1.5, "title": null}},
       "x2": {"field": "x2"},
       "y": {"field": "y1", "type": "quantitative", "axis": {"orient": "left", "values": [0.625, 0.675, 0.725, 0.775, 0.825, 0.875, 0.925, 0.975], "labels": false, "domain": false, "tickSize": 5, "tickWidth": 1.5, "title": null}},
       "y2": {"field": "y2"}
      }
     }
    ],
    "resolve": {"axis": {"x": "independent", "y": "independent"}}
   },
   {
    "data": {"name": "p2inset"},
    "mark": {"type": "line", "strokeWidth": 1.2, "interpolate": "monotone"},
    "encoding": {
     "x": {"field": "w", "type": "quantitative", "scale": {"domain": [1700, 1250], "range": [95.3, 306.8], "nice": false, "zero": false},
           "axis": {"orient": "bottom", "zindex": 2, "offset": -68.8, "values": [1700, 1600, 1500, 1400, 1300], "format": "d", "labelFontSize": 8.5, "tickSize": 3, "tickWidth": 1, "domainWidth": 1, "labelPadding": 1, "title": "Wavenumber / cm⁻¹", "titleFontSize": 10, "titlePadding": 5}},
     "y": {"field": "t", "type": "quantitative", "scale": {"domain": [0.97, 1.0], "range": [397.2, 241.5], "nice": false, "zero": false},
           "axis": {"orient": "left", "zindex": 2, "offset": -95.3, "values": [0.97, 0.98, 0.99, 1.0], "format": ".2f", "labelFontSize": 8.5, "tickSize": 3, "tickWidth": 1, "domainWidth": 1, "labelPadding": 2, "title": "Transmittance / %", "titleFontSize": 10, "titlePadding": 9}},
     "color": {"field": "s", "type": "nominal", "scale": {"domain": ["SBA-15", "SBA-15 + R5P", "SBA-15 + R5P+ APTES", "S3"], "range": ["#000000", "#ff0000", "#0000ff", "#008080"]}, "legend": null}
    }
   }
  ],
  "resolve": {"scale": {"x": "independent", "y": "independent", "color": "independent"}}
 }
]
}
